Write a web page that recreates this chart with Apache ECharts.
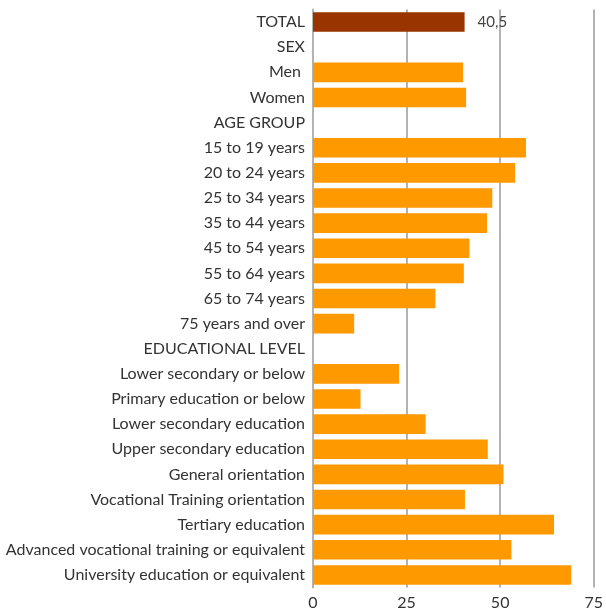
<!DOCTYPE html>
<html><head><meta charset="utf-8">
<script src="https://cdn.jsdelivr.net/npm/echarts@6/dist/echarts.min.js"></script>
<style>html,body{margin:0;padding:0;background:#fff}#c{width:606px;height:611px}</style>
</head><body><div id="c"></div>
<script>
const categories = ["TOTAL","SEX","Men ","Women","AGE GROUP","15 to 19 years","20 to 24 years","25 to 34 years","35 to 44 years","45 to 54 years","55 to 64 years","65 to 74 years","75 years and over","EDUCATIONAL LEVEL","Lower secondary or below","Primary education or below","Lower secondary education","Upper secondary education","General orientation","Vocational Training orientation","Tertiary education","Advanced vocational training or equivalent","University education or equivalent"];
const values = [40.5,null,40.1,40.9,null,56.9,54.0,47.9,46.5,41.8,40.3,32.7,11.0,null,23.0,12.7,30.1,46.7,50.9,40.6,64.4,53.0,69.0];
const xTicks = [0,25,50,75];
const labelledIndex = 0;

const chart = echarts.init(document.getElementById('c'));
const data = values.map((v,i)=>({
  value: v,
  itemStyle: {color: i===0 ? '#993300' : '#FF9900'},
  label: {show: i===labelledIndex}
}));
chart.setOption({
  animation:false,
  grid:{left:313,right:9,top:9.5,bottom:23.5,containLabel:false},
  xAxis:{type:'value',min:xTicks[0],max:xTicks[xTicks.length-1],interval:25,
    axisLine:{show:false},axisTick:{show:false},
    axisLabel:{color:'#333',fontFamily:'Lato',fontSize:16,margin:7},
    splitLine:{show:true,lineStyle:{color:'#b3b3b3',width:2}}},
  yAxis:{type:'category',data:categories,inverse:true,
    axisLine:{show:true,lineStyle:{color:'#b3b3b3',width:2}},axisTick:{show:false},
    axisLabel:{color:'#333',fontFamily:'Lato',fontSize:16,margin:8}},
  series:[{type:'bar',data:data,barCategoryGap:'22%',
    label:{position:'right',distance:13,color:'#444',fontFamily:'Lato',fontSize:15,
      formatter:p=>String(p.value).replace('.',',')}}]
});
</script></body></html>
